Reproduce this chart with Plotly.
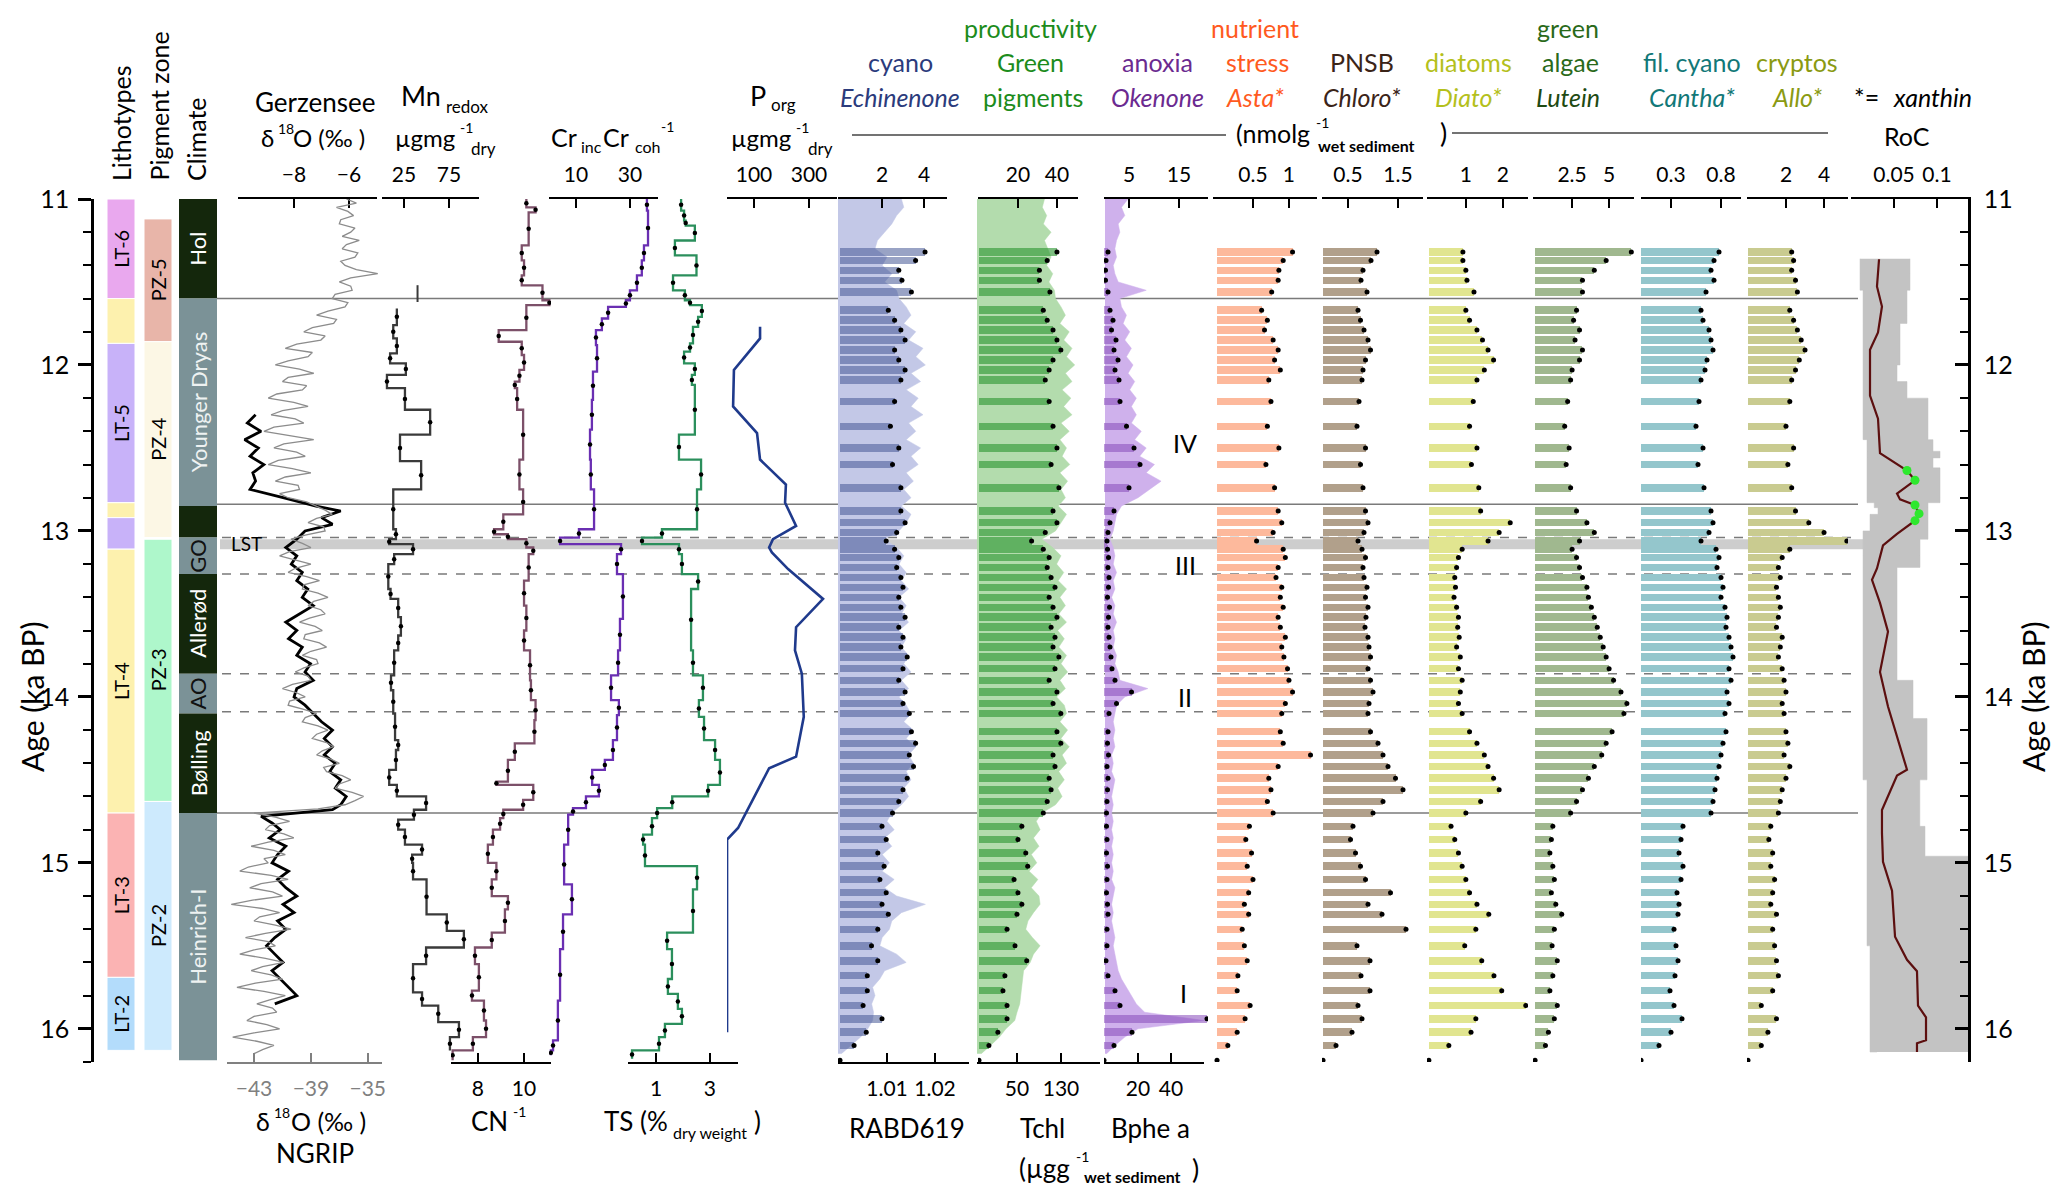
import plotly.graph_objects as go

W, H = 2067, 1199
FONT = "Lato"

# ------------------------------------------------------------------ data
# NGRIP d18O (permil), dense record
NG_AGE = [11.000, 11.025, 11.050, 11.075, 11.100, 11.125, 11.150, 11.175, 11.200, 11.225,
          11.250, 11.275, 11.300, 11.325, 11.350, 11.375, 11.400, 11.425, 11.450, 11.475,
          11.500, 11.525, 11.550, 11.575, 11.600, 11.625, 11.650, 11.675, 11.700, 11.725,
          11.750, 11.775, 11.800, 11.825, 11.850, 11.875, 11.900, 11.925, 11.950, 11.975,
          12.000, 12.025, 12.050, 12.075, 12.100, 12.125, 12.150, 12.175, 12.200, 12.225,
          12.250, 12.275, 12.300, 12.325, 12.350, 12.375, 12.400, 12.425, 12.450, 12.475,
          12.500, 12.525, 12.550, 12.575, 12.600, 12.625, 12.650, 12.675, 12.700, 12.725,
          12.750, 12.775, 12.800, 12.825, 12.850, 12.875, 12.900, 12.925, 12.950, 12.975,
          13.000, 13.025, 13.050, 13.075, 13.100, 13.125, 13.150, 13.175, 13.200, 13.225,
          13.250, 13.275, 13.300, 13.325, 13.350, 13.375, 13.400, 13.425, 13.450, 13.475,
          13.500, 13.525, 13.550, 13.575, 13.600, 13.625, 13.650, 13.675, 13.700, 13.725,
          13.750, 13.775, 13.800, 13.825, 13.850, 13.875, 13.900, 13.925, 13.950, 13.975,
          14.000, 14.025, 14.050, 14.075, 14.100, 14.125, 14.150, 14.175, 14.200, 14.225,
          14.250, 14.275, 14.300, 14.325, 14.350, 14.375, 14.400, 14.425, 14.450, 14.475,
          14.500, 14.525, 14.550, 14.575, 14.600, 14.625, 14.650, 14.675, 14.700, 14.725,
          14.750, 14.775, 14.800, 14.825, 14.850, 14.875, 14.900, 14.925, 14.950, 14.975,
          15.000, 15.025, 15.050, 15.075, 15.100, 15.125, 15.150, 15.175, 15.200, 15.225,
          15.250, 15.275, 15.300, 15.325, 15.350, 15.375, 15.400, 15.425, 15.450, 15.475,
          15.500, 15.525, 15.550, 15.575, 15.600, 15.625, 15.650, 15.675, 15.700, 15.725,
          15.750, 15.775, 15.800, 15.825, 15.850, 15.875, 15.900, 15.925, 15.950, 15.975,
          16.000, 16.025, 16.050, 16.075, 16.100, 16.125, 16.150]
NGRIP = [-36.5, -35.8, -37.2, -36.4, -36.0, -36.9, -37.0, -35.9, -36.2, -36.8,
         -35.6, -36.5, -36.8, -35.7, -35.9, -36.9, -36.6, -35.8, -34.3, -36.2,
         -37.0, -36.2, -36.1, -37.3, -37.5, -36.4, -36.6, -37.8, -38.6, -37.2,
         -37.4, -38.9, -39.5, -38.0, -38.3, -40.0, -40.8, -38.9, -39.2, -40.6,
         -41.5, -39.8, -38.8, -40.6, -41.0, -39.3, -39.6, -41.4, -42.0, -40.2,
         -39.2, -41.0, -41.8, -40.1, -39.5, -41.6, -42.3, -40.5, -38.8, -40.9,
         -41.6, -40.0, -39.4, -41.3, -42.0, -40.3, -39.0, -40.8, -41.5, -39.9,
         -39.8, -41.2, -40.6, -39.3, -38.6, -38.0, -37.5, -38.6, -39.2, -38.1,
         -38.0, -39.4, -40.4, -39.6, -39.0, -40.5, -41.2, -40.0, -39.0, -40.1,
         -40.6, -39.3, -38.4, -39.5, -39.6, -38.5, -37.8, -38.8, -39.2, -38.3,
         -38.0, -39.1, -39.8, -38.7, -38.2, -39.4, -39.5, -38.4, -37.9, -39.0,
         -39.6, -38.6, -38.5, -39.5, -40.1, -39.2, -39.0, -40.3, -41.0, -40.0,
         -39.4, -40.5, -40.6, -39.5, -38.6, -39.4, -39.6, -38.5, -37.8, -38.6,
         -38.9, -37.9, -37.4, -38.2, -38.6, -37.6, -37.0, -38.1, -37.9, -36.8,
         -36.2, -37.0, -37.3, -36.1, -35.3, -35.9, -36.6, -38.5, -43.0, -41.5,
         -40.5, -41.9, -42.2, -40.9, -40.2, -42.0, -43.2, -41.6, -40.8, -42.3,
         -42.0, -43.4, -44.0, -41.8, -40.6, -42.5, -43.3, -41.7, -41.0, -43.1,
         -44.6, -42.4, -41.2, -42.6, -43.0, -41.5, -40.4, -42.2, -43.6, -42.0,
         -41.5, -43.0, -44.0, -42.2, -40.9, -42.4, -43.2, -41.8, -41.0, -42.9,
         -44.2, -42.3, -40.8, -41.9, -42.8, -41.7, -41.4, -43.0, -43.5, -42.1,
         -41.2, -43.0, -44.5, -42.8, -41.6, -42.4, -43.0]

# hyperspectral records on a common age grid (ka BP)
HS_AGE = [11.00, 11.05, 11.10, 11.15, 11.20, 11.25, 11.30, 11.35, 11.40, 11.45,
          11.50, 11.55, 11.60, 11.65, 11.70, 11.75, 11.80, 11.85, 11.90, 11.95,
          12.00, 12.05, 12.10, 12.15, 12.20, 12.25, 12.30, 12.35, 12.40, 12.45,
          12.50, 12.55, 12.60, 12.65, 12.70, 12.75, 12.80, 12.85, 12.90, 12.95,
          13.00, 13.05, 13.10, 13.15, 13.20, 13.25, 13.30, 13.35, 13.40, 13.45,
          13.50, 13.55, 13.60, 13.65, 13.70, 13.75, 13.80, 13.85, 13.90, 13.95,
          14.00, 14.05, 14.10, 14.15, 14.20, 14.25, 14.30, 14.35, 14.40, 14.45,
          14.50, 14.55, 14.60, 14.65, 14.70, 14.75, 14.80, 14.85, 14.90, 14.95,
          15.00, 15.05, 15.10, 15.15, 15.20, 15.25, 15.30, 15.35, 15.40, 15.45,
          15.50, 15.55, 15.60, 15.65, 15.70, 15.75, 15.80, 15.85, 15.90, 15.95,
          16.00, 16.05, 16.10, 16.15]
RABD619 = [1.0130, 1.0135, 1.0120, 1.0110, 1.0095, 1.0080, 1.0075, 1.0100, 1.0090, 1.0110,
           1.0095, 1.0120, 1.0125, 1.0140, 1.0150, 1.0135, 1.0160, 1.0145, 1.0175, 1.0160,
           1.0180, 1.0150, 1.0170, 1.0140, 1.0165, 1.0150, 1.0175, 1.0145, 1.0160, 1.0140,
           1.0170, 1.0150, 1.0165, 1.0140, 1.0155, 1.0135, 1.0150, 1.0130, 1.0150, 1.0140,
           1.0125, 1.0095, 1.0120, 1.0135, 1.0125, 1.0140, 1.0130, 1.0145, 1.0125, 1.0140,
           1.0130, 1.0145, 1.0125, 1.0140, 1.0130, 1.0145, 1.0135, 1.0150, 1.0130, 1.0145,
           1.0125, 1.0140, 1.0150, 1.0135, 1.0155, 1.0140, 1.0160, 1.0145, 1.0155, 1.0140,
           1.0150, 1.0135, 1.0145, 1.0130, 1.0110, 1.0100, 1.0115, 1.0095, 1.0110, 1.0090,
           1.0105, 1.0090, 1.0115, 1.0095, 1.0120, 1.0180, 1.0130, 1.0110, 1.0105, 1.0090,
           1.0085, 1.0120, 1.0140, 1.0095, 1.0085, 1.0070, 1.0075, 1.0068, 1.0072, 1.0070,
           1.0060, 1.0045, 1.0025, 1.0005]
TCHL = [100, 96, 104, 98, 112, 100, 106, 112, 104, 115,
        108, 118, 120, 130, 138, 128, 145, 135, 150, 140,
        155, 138, 150, 132, 148, 135, 150, 130, 145, 128,
        140, 132, 146, 128, 142, 130, 138, 125, 140, 130,
        120, 95, 115, 130, 122, 135, 125, 140, 128, 138,
        126, 140, 124, 136, 126, 140, 130, 142, 128, 138,
        122, 136, 140, 128, 142, 130, 145, 132, 140, 126,
        136, 124, 132, 120, 95, 85, 92, 80, 90, 76,
        86, 72, 88, 76, 90, 92, 80, 70, 66, 78,
        92, 80, 74, 62, 60, 58, 56, 55, 50, 46,
        30, 18, 2, -15]
BPHE = [14, 10, 12, 8, 9, 7, 6, 7, 5, 6,
        8, 25, 9, 10, 13, 11, 15, 12, 16, 13,
        17, 14, 18, 15, 19, 16, 19, 16, 22, 18,
        25, 21, 30, 25, 34, 27, 20, 10, 7, 6,
        5, 3, 5, 6, 5, 7, 5, 6, 4, 6,
        5, 7, 5, 6, 5, 7, 6, 8, 9, 26,
        12, 7, 6, 5, 6, 5, 6, 4, 5, 4,
        6, 5, 4, 5, 4, 5, 4, 5, 4, 5,
        4, 5, 4, 6, 5, 4, 5, 4, 5, 6,
        5, 6, 7, 8, 10, 13, 16, 19, 24, 60,
        20, 12, 6, 1]

# Gerzensee d18O
GERZ_AGE = [12.30, 12.35, 12.40, 12.45, 12.50, 12.55, 12.60, 12.65, 12.70, 12.75,
            12.80, 12.85, 12.88, 12.92, 12.96, 13.00, 13.05, 13.10, 13.15, 13.20,
            13.25, 13.30, 13.35, 13.40, 13.45, 13.50, 13.55, 13.60, 13.65, 13.70,
            13.75, 13.80, 13.85, 13.90, 13.95, 14.00, 14.05, 14.10, 14.15, 14.20,
            14.25, 14.30, 14.35, 14.40, 14.45, 14.50, 14.55, 14.60, 14.65, 14.68,
            14.72, 14.76, 14.80, 14.85, 14.90, 14.95, 15.00, 15.05, 15.10, 15.15,
            15.20, 15.25, 15.30, 15.35, 15.40, 15.45, 15.50, 15.55, 15.60, 15.65,
            15.70, 15.75, 15.80, 15.85]
GERZ = [-9.4, -9.7, -9.2, -9.8, -9.3, -9.6, -9.1, -9.5, -9.4, -9.6,
        -8.4, -7.2, -6.3, -7.0, -6.6, -7.6, -7.9, -8.3, -7.9, -8.1,
        -7.7, -7.9, -7.5, -7.7, -7.3, -7.8, -8.3, -7.9, -8.2, -7.7,
        -7.9, -7.4, -7.6, -7.3, -7.9, -8.0, -7.6, -7.3, -7.0, -6.6,
        -6.9, -6.6, -6.9, -6.5, -6.7, -6.3, -6.5, -6.1, -6.3, -6.6,
        -9.2, -8.8, -8.5, -8.9, -8.3, -8.6, -8.8, -8.2, -8.6, -8.3,
        -7.9, -8.4, -8.0, -8.6, -8.3, -8.7, -9.0, -8.7, -8.4, -8.8,
        -8.5, -8.2, -7.9, -8.7]

# geochemistry step profiles: top age of each sample and its value
MN_TOP = [11.66, 11.76, 11.84, 11.93, 11.99, 12.06, 12.14, 12.27, 12.42, 12.58,
          12.75, 12.99, 13.05, 13.08, 13.14, 13.20, 13.35, 13.41, 13.52, 13.63,
          13.72, 13.87, 13.96, 14.10, 14.26, 14.32, 14.44, 14.53, 14.60, 14.68,
          14.74, 14.80, 14.89, 14.95, 15.00, 15.10, 15.31, 15.41, 15.51, 15.61,
          15.78, 15.86, 15.96, 16.05]
MN = [17, 13, 17, 9.5, 27, 6, 26, 54, 20.5, 44,
      13, 16, 8.5, 35, 14, 7.5, 10, 18.5, 21.5, 18.5,
      14, 10.5, 13, 15, 18.5, 16, 8.5, 17, 49.5, 36,
      18.5, 26, 45, 34, 35, 50, 72.5, 91.5, 49.5, 35,
      45, 63, 86, 76]
MN_BOTTOM = 16.13
MN_ISOLATED_AGE = [11.57]
MN_ISOLATED = [40]

CN_TOP = [11.00, 11.05, 11.08, 11.28, 11.37, 11.46, 11.52, 11.61, 11.64, 11.79,
          11.86, 11.94, 12.03, 12.10, 12.14, 12.27, 12.57, 12.75, 12.90, 12.99,
          13.02, 13.05, 13.10, 13.14, 13.30, 13.45, 13.60, 13.72, 13.90, 14.02,
          14.14, 14.28, 14.38, 14.51, 14.53, 14.62, 14.68, 14.73, 14.80, 14.89,
          15.00, 15.10, 15.20, 15.28, 15.42, 15.51, 15.61, 15.77, 15.83, 15.95,
          16.05, 16.13]
CN = [10.1, 10.5, 10.2, 9.9, 10.0, 9.9, 10.8, 11.1, 10.1, 8.9,
      9.9, 10.0, 9.8, 9.6, 9.7, 9.96, 9.8, 9.96, 9.1, 8.7,
      9.3, 10.1, 10.4, 10.2, 10.0, 10.1, 10.0, 10.26, 10.3, 10.5,
      10.45, 9.6, 9.3, 8.8, 10.4, 9.96, 9.1, 8.96, 8.65, 8.43,
      8.8, 8.6, 9.3, 9.17, 8.6, 7.87, 8.04, 7.74, 8.26, 8.35,
      7.78, 6.9]
CN_BOTTOM = 16.19

CR_TOP = [11.00, 11.07, 11.28, 11.37, 11.46, 11.55, 11.61, 11.65, 11.72, 11.79,
          11.88, 12.04, 12.21, 12.39, 12.57, 12.75, 12.99, 13.04, 13.08, 13.14,
          13.26, 13.53, 13.72, 13.87, 14.02, 14.11, 14.26, 14.38, 14.44, 14.53,
          14.60, 14.67, 14.71, 14.89, 15.13, 15.31, 15.52, 15.83, 16.07, 16.13]
CR = [36.3, 36.7, 35.2, 34.4, 32.6, 30.0, 28.5, 21.9, 19.6, 17.4,
      17.8, 16.3, 15.9, 15.2, 15.5, 16.7, 11.1, 4.1, 26.7, 25.2,
      27.4, 26.3, 25.6, 23.0, 25.9, 25.2, 23.7, 20.7, 16.0, 18.5,
      13.7, 8.9, 7.1, 5.6, 8.5, 5.2, 4.1, 3.3, 1.5, 0.7]
CR_BOTTOM = 16.16

TS_TOP = [11.00, 11.07, 11.13, 11.16, 11.25, 11.34, 11.46, 11.55, 11.61, 11.64,
          11.71, 11.77, 11.87, 11.92, 11.99, 12.06, 12.12, 12.42, 12.57, 12.75,
          12.99, 13.04, 13.08, 13.14, 13.26, 13.35, 13.72, 13.87, 14.02, 14.12,
          14.26, 14.38, 14.53, 14.60, 14.67, 14.73, 14.83, 14.89, 15.02, 15.16,
          15.42, 15.52, 15.70, 15.79, 15.88, 15.97, 16.05, 16.13]
TS = [1.93, 2.04, 2.10, 2.44, 1.70, 2.50, 1.63, 2.07, 2.26, 2.70,
      2.56, 2.37, 2.26, 2.04, 2.44, 2.33, 2.44, 1.85, 2.67, 2.52,
      1.22, 0.48, 1.85, 1.96, 2.56, 2.30, 2.37, 2.74, 2.59, 2.78,
      3.19, 3.37, 2.93, 1.60, 1.04, 0.85, 0.52, 0.59, 2.52, 2.37,
      1.41, 1.59, 1.44, 1.81, 1.96, 1.33, 1.11, 0.11]
TS_BOTTOM = 16.18

PORG_AGE = [11.77, 11.84, 12.03, 12.25, 12.41, 12.57, 12.72, 12.83, 12.97, 13.05,
            13.10, 13.13, 13.23, 13.41, 13.58, 13.72, 13.86, 14.12, 14.36, 14.43,
            14.79, 14.86, 16.02]
PORG = [122, 122, 27, 24, 111, 122, 216, 213, 253, 169,
        155, 165, 224, 351, 253, 249, 274, 281, 253, 155,
        42, 2, 2]

# HPLC pigment samples
HPLC_AGE = [11.32, 11.37, 11.43, 11.49, 11.56,
            11.67, 11.73, 11.79, 11.85, 11.91, 11.97, 12.03, 12.09,
            12.22, 12.37, 12.50, 12.60, 12.74,
            12.88, 12.95, 13.01, 13.06, 13.11, 13.16, 13.22, 13.28, 13.34, 13.40,
            13.46, 13.52, 13.58, 13.64, 13.70, 13.76, 13.83, 13.90, 13.97, 14.04, 14.10,
            14.21, 14.28, 14.35, 14.42, 14.49, 14.56, 14.63, 14.70,
            14.78, 14.86, 14.94, 15.02, 15.10, 15.18, 15.25,
            15.31, 15.40, 15.50, 15.59, 15.68, 15.77, 15.86, 15.94, 16.02, 16.10, 16.19]
ECHIN = [4.05, 3.6, 2.8, 2.95, 3.4,
         2.3, 2.6, 2.9, 3.1, 2.6, 2.8, 3.1, 2.9,
         2.6, 2.4, 2.8, 2.5, 2.9,
         2.9, 3.1, 2.7, 2.2, 2.6, 2.8, 2.7, 2.9, 3.0, 2.8,
         2.9, 3.1, 2.8, 3.0, 2.9, 3.2, 3.0, 2.8, 3.1, 3.0, 3.3,
         3.4, 3.6, 3.3, 3.5, 3.2, 3.0, 2.8, 2.5,
         2.0, 2.2, 1.8, 2.1, 1.9, 2.2, 2.0,
         2.3, 1.8, 1.5, 1.8, 1.3, 1.3, 1.1, 2.0, 1.25, 0.67, 0]
GREEN_PIG = [40, 35, 31, 31, 36.4,
             33, 35, 38, 40, 42, 38, 36, 34,
             36, 38, 40, 37, 41,
             38, 40, 34, 27, 33, 36, 35, 37, 39, 36,
             38, 40, 37, 39, 38, 41, 39, 36, 40, 38, 42,
             40, 42, 38, 39, 36, 37, 35, 33,
             22, 20, 24, 25, 18, 20, 22,
             19.5, 14.4, 18.5, 24.5, 13.3, 12.3, 14.4, 14.4, 9.7, 5.1, 0]
OKEN = [0.8, 0.4, 0.3, 0.3, 0.8,
        1.2, 1.8, 1.5, 2.4, 2.0, 2.8, 2.2, 3.0,
        3.2, 4.5, 6.0, 7.2, 5.0,
        2.0, 1.2, 0.8, 0.6, 0.7, 0.9, 0.8, 1.0, 0.9, 0.7,
        1.1, 0.9, 0.8, 1.0, 1.2, 1.4, 1.6, 2.2, 5.5, 2.5, 1.0,
        0.8, 0.7, 0.9, 0.6, 0.8, 0.7, 0.6, 0.5,
        0.5, 0.6, 0.5, 0.7, 0.6, 0.5, 0.7,
        0.8, 0.6, 0.6, 0.4, 0.8, 2.2, 3.2, 20.6, 5.6, 2.0, 0]
ASTA = [1.05, 0.92, 0.86, 0.85, 0.76,
        0.62, 0.70, 0.66, 0.78, 0.85, 0.80, 0.88, 0.72,
        0.75, 0.70, 0.86, 0.68, 0.80,
        0.85, 0.90, 0.78, 0.55, 0.92, 0.95, 0.85, 0.82, 0.90, 0.88,
        0.92, 0.85, 0.88, 0.95, 0.90, 0.93, 0.98, 1.00, 1.05, 0.95, 0.90,
        0.88, 0.92, 1.30, 0.85, 0.72, 0.75, 0.70, 0.78,
        0.45, 0.40, 0.48, 0.42, 0.50, 0.44, 0.38,
        0.44, 0.35, 0.38, 0.42, 0.29, 0.28, 0.46, 0.39, 0.28, 0.15, 0]
CHLORO = [1.08, 0.96, 0.80, 0.76, 0.88,
          0.70, 0.75, 0.82, 0.90, 0.95, 0.85, 0.80, 0.78,
          0.72, 0.68, 0.85, 0.75, 0.80,
          0.85, 0.90, 0.82, 0.70, 0.78, 0.85, 0.80, 0.82, 0.88, 0.85,
          0.90, 0.86, 0.84, 0.90, 0.92, 0.95, 0.90, 0.95, 1.00, 0.92, 0.90,
          0.95, 1.10, 1.20, 1.30, 1.45, 1.60, 1.20, 1.00,
          0.60, 0.55, 0.65, 0.75, 0.85, 1.35, 0.90,
          1.18, 1.66, 0.68, 0.94, 0.76, 0.94, 0.70, 0.78, 0.58, 0.26, 0]
DIATO = [0.92, 0.92, 1.0, 1.03, 1.22,
         1.0, 1.1, 1.3, 1.45, 1.6, 1.75, 1.5, 1.3,
         1.2, 1.1, 1.3, 1.15, 1.35,
         1.4, 2.2, 1.9, 1.6, 0.9, 0.8, 0.75, 0.7, 0.72, 0.68,
         0.75, 0.8, 0.78, 0.82, 0.75, 0.85, 0.8, 0.9, 0.85, 0.8, 0.9,
         1.1, 1.3, 1.5, 1.6, 1.75, 1.9, 1.4, 1.0,
         0.6, 0.7, 0.8, 0.9, 1.0, 1.1, 1.3,
         1.62, 1.27, 0.97, 1.43, 1.76, 1.97, 2.62, 1.27, 1.14, 0.54, 0]
LUTEIN = [6.5, 4.8, 4.0, 3.2, 3.2,
          2.8, 2.6, 3.0, 2.7, 3.2, 3.0, 2.5, 2.4,
          2.2, 2.0, 2.3, 2.1, 2.4,
          2.8, 3.5, 4.0, 3.0, 2.5, 2.8, 3.0, 3.2, 3.5, 3.6,
          3.8, 4.0, 4.2, 4.4, 4.6, 4.8, 5.0, 5.3, 5.8, 6.2, 6.0,
          5.2, 4.8, 4.5, 4.0, 3.6, 3.2, 2.8, 2.4,
          1.2, 1.1, 1.0, 1.2, 1.3, 1.1, 1.4,
          1.8, 1.3, 1.15, 1.5, 1.2, 1.0, 1.5, 1.3, 0.9, 0.7, 0]
CANTHA = [0.78, 0.73, 0.70, 0.73, 0.65,
          0.60, 0.62, 0.68, 0.70, 0.72, 0.66, 0.64, 0.60,
          0.58, 0.55, 0.62, 0.57, 0.63,
          0.70, 0.72, 0.68, 0.60, 0.75, 0.78, 0.76, 0.80, 0.82, 0.80,
          0.84, 0.86, 0.85, 0.88, 0.90, 0.92, 0.88, 0.90, 0.86, 0.88, 0.84,
          0.85, 0.82, 0.80, 0.78, 0.76, 0.74, 0.72, 0.70,
          0.42, 0.40, 0.38, 0.42, 0.40, 0.36, 0.38,
          0.37, 0.33, 0.35, 0.37, 0.34, 0.29, 0.33, 0.41, 0.30, 0.18, 0]
ALLO = [2.3, 2.4, 2.3, 2.5, 2.6,
        2.2, 2.4, 2.6, 2.8, 3.0, 2.7, 2.5, 2.3,
        2.2, 2.0, 2.4, 2.1, 2.3,
        2.5, 3.2, 4.0, 5.2, 2.2, 1.8, 1.6, 1.7, 1.5, 1.6,
        1.7, 1.6, 1.5, 1.8, 1.7, 1.6, 1.8, 1.9, 2.0, 1.8, 1.9,
        2.0, 2.1, 1.9, 2.2, 2.0, 1.8, 1.7, 1.6,
        1.2, 1.1, 1.3, 1.2, 1.4, 1.3, 1.2,
        1.5, 1.3, 1.4, 1.5, 1.6, 1.3, 0.7, 1.5, 1.05, 0.7, 0]

# rate of change
ROC_AGE = [11.363, 11.527, 11.648, 11.804, 11.908, 12.185, 12.324, 12.532, 12.636, 12.695,
           12.775, 12.810, 12.844, 12.896, 12.938, 13.018, 13.087, 13.226, 13.295, 13.434,
           13.607, 13.850, 14.058, 14.266, 14.439, 14.474, 14.682, 14.821, 14.994, 15.168,
           15.445, 15.584, 15.653, 15.861, 15.931, 16.069, 16.087, 16.139]
ROC = [0.0326, 0.0302, 0.0360, 0.0314, 0.0221, 0.0221, 0.0314, 0.0337, 0.0651, 0.0744,
       0.0535, 0.0570, 0.0744, 0.0791, 0.0744, 0.0535, 0.0372, 0.0302, 0.0244, 0.0337,
       0.0430, 0.0337, 0.0430, 0.0547, 0.0651, 0.0535, 0.0360, 0.0360, 0.0372, 0.0477,
       0.0512, 0.0651, 0.0767, 0.0779, 0.0872, 0.0872, 0.0767, 0.0767]
ROC_SIG = [0, 0, 0, 0, 0, 0, 0, 0, 1, 1,
           0, 0, 1, 1, 1, 0, 0, 0, 0, 0,
           0, 0, 0, 0, 0, 0, 0, 0, 0, 0,
           0, 0, 0, 0, 0, 0, 0, 0]
ROC_BAND_AGE = [11.36, 11.45, 11.55, 11.70, 11.75, 12.00, 12.10, 12.20, 12.40, 12.45,
                12.52, 12.56, 12.62, 12.80, 12.83, 12.86, 12.90, 13.00, 13.05, 13.15,
                13.22, 13.85, 13.90, 14.10, 14.13, 14.45, 14.50, 14.78, 14.92, 14.96,
                15.50, 16.00, 16.14]
ROC_LO = [0.0105, 0.0105, 0.014, 0.014, 0.014, 0.014, 0.014, 0.014, 0.014, 0.0186,
          0.0186, 0.0186, 0.0186, 0.0186, 0.027, 0.0314, 0.0221, 0.014, 0.014, 0.014,
          0.014, 0.014, 0.014, 0.014, 0.014, 0.014, 0.0186, 0.0186, 0.0186, 0.0186,
          0.0221, 0.0221, 0.0302]
ROC_HI = [0.0686, 0.0686, 0.0651, 0.0651, 0.057, 0.0535, 0.0651, 0.0895, 0.0895, 0.0953,
          0.1035, 0.0953, 0.1035, 0.1035, 0.0895, 0.0895, 0.0895, 0.0895, 0.0802, 0.0802,
          0.0535, 0.0535, 0.0721, 0.0721, 0.0884, 0.0884, 0.080, 0.086, 0.086, 0.1372,
          0.1372, 0.1372, 0.1372]

# zonations
LITHO_TOP = [11.00, 11.60, 11.87, 12.83, 12.92, 13.11, 14.70, 15.69]
LITHO_BOT = [11.60, 11.87, 12.83, 12.92, 13.11, 14.70, 15.69, 16.13]
LITHO_LABEL = ["LT-6", "", "LT-5", "", "", "LT-4", "LT-3", "LT-2"]
PZ_TOP = [11.12, 11.86, 13.05, 14.63]
PZ_BOT = [11.86, 13.04, 14.63, 16.13]
PZ_LABEL = ["PZ-5", "PZ-4", "PZ-3", "PZ-2"]
CLIM_TOP = [11.00, 11.60, 12.85, 13.04, 13.26, 13.86, 14.10, 14.70]
CLIM_BOT = [11.60, 12.85, 13.04, 13.26, 13.86, 14.10, 14.70, 16.19]
CLIM_LABEL = ["Hol", "Younger Dryas", "", "GO", "Allerød", "AO", "Bølling", "Heinrich-I"]
SOLID_AGES = [11.60, 12.84, 14.70]
DASHED_AGES = [13.04, 13.26, 13.86, 14.09]
LST_AGES = [13.05, 13.11]
AGE_TICKS = [11, 12, 13, 14, 15, 16]

for a, b in [(NG_AGE, NGRIP), (HS_AGE, RABD619), (HS_AGE, TCHL), (HS_AGE, BPHE),
             (GERZ_AGE, GERZ), (MN_TOP, MN), (CN_TOP, CN), (CR_TOP, CR), (TS_TOP, TS),
             (PORG_AGE, PORG), (HPLC_AGE, ECHIN), (HPLC_AGE, GREEN_PIG), (HPLC_AGE, OKEN),
             (HPLC_AGE, ASTA), (HPLC_AGE, CHLORO), (HPLC_AGE, DIATO), (HPLC_AGE, LUTEIN),
             (HPLC_AGE, CANTHA), (HPLC_AGE, ALLO), (ROC_AGE, ROC), (ROC_AGE, ROC_SIG),
             (ROC_BAND_AGE, ROC_LO), (ROC_BAND_AGE, ROC_HI)]:
    assert len(a) == len(b), (len(a), len(b))

# ------------------------------------------------------------------ styles
LITHO_COL = ["#e9a8ee", "#fdf1ae", "#c8b2f9", "#fdf1ae", "#c8b2f9", "#fdf1ae", "#fbb3b3", "#b3dcfb"]
PZ_COL = ["#e8b5a9", "#fcf7e5", "#aef7cb", "#cdeafd"]
DARK, GREY = "#14270c", "#7b9297"
CLIM_COL = [DARK, GREY, DARK, GREY, DARK, GREY, DARK, GREY]
CLIM_TXT = ["white", "#eef2f2", "white", "#111111", "white", "#111111", "white", "#eef2f2"]

Y_TOP_PX, Y_BOT_PX = 199, 1062
AGE_RANGE = [16.2, 11.0]


def fx(p):
    return p / W


def fy(p):
    return 1 - p / H


fig = go.Figure()


def add_xaxis(name, x0, x1, rng, side, tickvals, color="black", ttext=None):
    key = "xaxis" + name[1:]
    d = dict(domain=[fx(x0), fx(x1)], range=rng, anchor="y", side=side,
             showline=True, linecolor=color, linewidth=2.2,
             ticks="inside", ticklen=9, tickwidth=2.2, tickcolor=color,
             tickmode="array", tickvals=tickvals,
             tickfont=dict(family=FONT, size=21, color=color),
             showgrid=False, zeroline=False, fixedrange=True, ticklabelstandoff=7,
             automargin=False)
    if ttext is not None:
        d["ticktext"] = ttext
    fig.update_layout(**{key: d})


add_xaxis("x", 238, 377, [-10.04, -4.98], "top", [-8, -6])
add_xaxis("x2", 227, 382, [-44.9, -34.0], "bottom", [-43, -39, -35], color="#808080")
add_xaxis("x3", 382, 479, [0.5, 108.3], "top", [25, 75])
add_xaxis("x4", 451, 551, [6.83, 11.17], "bottom", [8, 10])
add_xaxis("x5", 549, 658, [0, 40.4], "top", [10, 30])
add_xaxis("x6", 628, 738, [-0.04, 4.04], "bottom", [1, 3])
add_xaxis("x7", 727, 837, [1.8, 401.8], "top", [100, 300])
add_xaxis("x8", 838, 969, [0.99979, 1.02708], "bottom", [1.01, 1.02], ttext=["1.01", "1.02"])
add_xaxis("x9", 838, 947, [-0.095, 5.095], "top", [2, 4])
add_xaxis("x10", 977, 1100, [-22.7, 200.9], "bottom", [50, 130])
add_xaxis("x11", 978, 1078, [-0.5, 50.8], "top", [20, 40])
add_xaxis("x12", 1104, 1204, [-0.6, 60], "bottom", [20, 40])
add_xaxis("x13", 1104, 1208, [0, 20.8], "top", [5, 15])
add_xaxis("x14", 1213, 1317, [-0.056, 1.39], "top", [0.5, 1], ttext=["0.5", "1"])
add_xaxis("x15", 1322, 1423, [-0.02, 2.0], "top", [0.5, 1.5], ttext=["0.5", "1.5"])
add_xaxis("x16", 1427, 1528, [-0.05, 2.68], "top", [1, 2])
add_xaxis("x17", 1533, 1634, [-0.14, 6.68], "top", [2.5, 5], ttext=["2.5", "5"])
add_xaxis("x18", 1641, 1741, [0, 1.0], "top", [0.3, 0.8], ttext=["0.3", "0.8"])
add_xaxis("x19", 1747, 1848, [-0.05, 5.26], "top", [2, 4])
add_xaxis("x20", 1851, 1971, [0, 0.1395], "top", [0.05, 0.1], ttext=["0.05", "0.1"])

TCHL_RANGE = [-22.7, 200.9]

NOHOVER = dict(hoverinfo="skip", showlegend=False)

fig.add_trace(go.Scatter(x=NGRIP, y=NG_AGE, xaxis="x2", yaxis="y", mode="lines",
                         line=dict(color="#8c8c8c", width=1.3), **NOHOVER))
fig.add_trace(go.Scatter(x=GERZ, y=GERZ_AGE, xaxis="x", yaxis="y", mode="lines",
                         line=dict(color="black", width=2.8), **NOHOVER))


def step_profile(tops, vals, bottom, axis, color):
    xs = list(vals) + [vals[-1]]
    ys = list(tops) + [bottom]
    fig.add_trace(go.Scatter(x=xs, y=ys, xaxis=axis, yaxis="y", mode="lines",
                             line=dict(color=color, width=2.3, shape="vh"), **NOHOVER))
    ends = list(tops[1:]) + [bottom]
    mids = [(t + e) / 2 for t, e in zip(tops, ends)]
    fig.add_trace(go.Scatter(x=vals, y=mids, xaxis=axis, yaxis="y", mode="markers",
                             marker=dict(color="black", size=4.5), **NOHOVER))


step_profile(MN_TOP, MN, MN_BOTTOM, "x3", "#3a3a3a")
fig.add_trace(go.Scatter(x=MN_ISOLATED, y=MN_ISOLATED_AGE, xaxis="x3", yaxis="y", mode="markers",
                         marker=dict(symbol="line-ns", size=12, line=dict(color="#3a3a3a", width=2)),
                         **NOHOVER))
step_profile(CN_TOP, CN, CN_BOTTOM, "x4", "#7c5069")
step_profile(CR_TOP, CR, CR_BOTTOM, "x5", "#6a2fb2")
step_profile(TS_TOP, TS, TS_BOTTOM, "x6", "#2b8f5c")

fig.add_trace(go.Scatter(x=PORG, y=PORG_AGE, xaxis="x7", yaxis="y", mode="lines",
                         line=dict(color="#1f3a8c", width=2.6), **NOHOVER))

# hyperspectral shading (lower-numbered axes so the pigment bars sit on top)
fig.add_trace(go.Scatter(x=RABD619, y=HS_AGE, xaxis="x8", yaxis="y", mode="lines",
                         fill="tozerox", fillcolor="#c3c8e7",
                         line=dict(color="#c3c8e7", width=0.5), **NOHOVER))
fig.add_trace(go.Scatter(x=[TCHL_RANGE[0]] * len(HS_AGE), y=HS_AGE, xaxis="x10", yaxis="y",
                         mode="lines", line=dict(width=0, color="rgba(0,0,0,0)"), **NOHOVER))
fig.add_trace(go.Scatter(x=TCHL, y=HS_AGE, xaxis="x10", yaxis="y", mode="lines",
                         fill="tonextx", fillcolor="#b3dcad",
                         line=dict(color="#b3dcad", width=0.5), **NOHOVER))
fig.add_trace(go.Scatter(x=BPHE, y=HS_AGE, xaxis="x12", yaxis="y", mode="lines",
                         fill="tozerox", fillcolor="#cfb1ec",
                         line=dict(color="#cfb1ec", width=0.5), **NOHOVER))


def pigment(vals, axis, color):
    fig.add_trace(go.Bar(x=vals, y=HPLC_AGE, orientation="h", xaxis=axis, yaxis="y",
                         width=0.045, marker=dict(color=color, line=dict(width=0)), **NOHOVER))
    fig.add_trace(go.Scatter(x=vals, y=HPLC_AGE, xaxis=axis, yaxis="y", mode="markers",
                             marker=dict(color="black", size=5), **NOHOVER))


pigment(ECHIN, "x9", "rgba(70,88,150,0.55)")
pigment(GREEN_PIG, "x11", "rgba(45,150,50,0.62)")
pigment(OKEN, "x13", "rgba(135,75,185,0.55)")
pigment(ASTA, "x14", "#fdb99c")
pigment(CHLORO, "x15", "#b1a08b")
pigment(DIATO, "x16", "#e1e590")
pigment(LUTEIN, "x17", "#a0b88f")
pigment(CANTHA, "x18", "#94c6cc")
pigment(ALLO, "x19", "#c9cb90")

fig.add_trace(go.Scatter(x=ROC_LO, y=ROC_BAND_AGE, xaxis="x20", yaxis="y", mode="lines",
                         line=dict(color="#c3c3c3", width=0.5, shape="vh"), **NOHOVER))
fig.add_trace(go.Scatter(x=ROC_HI, y=ROC_BAND_AGE, xaxis="x20", yaxis="y", mode="lines",
                         fill="tonextx", fillcolor="#c3c3c3",
                         line=dict(color="#c3c3c3", width=0.5, shape="vh"), **NOHOVER))
fig.add_trace(go.Scatter(x=ROC, y=ROC_AGE, xaxis="x20", yaxis="y", mode="lines",
                         line=dict(color="#5c0f0f", width=2.2), **NOHOVER))
fig.add_trace(go.Scatter(x=[v for v, s in zip(ROC, ROC_SIG) if s],
                         y=[a for a, s in zip(ROC_AGE, ROC_SIG) if s],
                         xaxis="x20", yaxis="y", mode="markers",
                         marker=dict(color="#2ee82e", size=9), **NOHOVER))
fig.add_trace(go.Scatter(x=[None], y=[None], xaxis="x20", yaxis="y2", mode="markers", **NOHOVER))

yax_common = dict(domain=[fy(Y_BOT_PX), fy(Y_TOP_PX)], range=AGE_RANGE, showline=True,
                  linecolor="black", linewidth=2.6, tickmode="array", tickvals=AGE_TICKS,
                  ticklen=13, tickwidth=2.6, tickcolor="black", showgrid=False, zeroline=False,
                  fixedrange=True, automargin=False,
                  tickfont=dict(family=FONT, size=25, color="black"),
                  minor=dict(tickmode="linear", tick0=11.0, dtick=0.2, ticklen=8, tickwidth=2.3,
                             tickcolor="black"))
fig.update_layout(
    yaxis=dict(anchor="free", position=fx(92), side="left", ticks="outside",
               ticklabelstandoff=4, **yax_common),
    yaxis2=dict(anchor="free", position=fx(1969), side="right", overlaying="y", ticks="inside",
                ticklabelstandoff=8, **yax_common),
)
fig.layout.yaxis.minor.ticks = "outside"
fig.layout.yaxis2.minor.ticks = "inside"

# ---- shapes
shapes = []
for t, b, c in zip(LITHO_TOP, LITHO_BOT, LITHO_COL):
    shapes.append(dict(type="rect", xref="paper", yref="y", x0=fx(107), x1=fx(135), y0=t, y1=b,
                       fillcolor=c, line=dict(width=1, color="white"), layer="below"))
for t, b, c in zip(PZ_TOP, PZ_BOT, PZ_COL):
    shapes.append(dict(type="rect", xref="paper", yref="y", x0=fx(144), x1=fx(172), y0=t, y1=b,
                       fillcolor=c, line=dict(width=1, color="white"), layer="below"))
for t, b, c in zip(CLIM_TOP, CLIM_BOT, CLIM_COL):
    shapes.append(dict(type="rect", xref="paper", yref="y", x0=fx(179), x1=fx(217), y0=t, y1=b,
                       fillcolor=c, line=dict(width=0), layer="below"))
shapes.append(dict(type="rect", xref="paper", yref="y", x0=fx(220), x1=fx(1863),
                   y0=LST_AGES[0], y1=LST_AGES[1], fillcolor="#cdcdcd", line=dict(width=0),
                   layer="below"))
for a in SOLID_AGES:
    shapes.append(dict(type="line", xref="paper", yref="y", x0=fx(217), x1=fx(1858), y0=a, y1=a,
                       line=dict(color="#7a7a7a", width=1.5), layer="below"))
for a in DASHED_AGES:
    shapes.append(dict(type="line", xref="paper", yref="y", x0=fx(222), x1=fx(1858), y0=a, y1=a,
                       line=dict(color="#7a7a7a", width=1.5, dash="dash"), layer="below"))
shapes.append(dict(type="line", xref="paper", yref="paper", x0=fx(852), x1=fx(1226),
                   y0=fy(135), y1=fy(135), line=dict(color="#444", width=1.5)))
shapes.append(dict(type="line", xref="paper", yref="paper", x0=fx(1452), x1=fx(1828),
                   y0=fy(133), y1=fy(133), line=dict(color="#444", width=1.5)))
fig.update_layout(shapes=shapes)

# ---- annotations (sub/superscripts set as separate small labels)
anns = []


def txt(s, x, y, size=24, color="black", angle=0, xanchor="center", yanchor="middle",
        yref="paper", italic=False, bold=False):
    anns.append(dict(text=s, x=fx(x), y=(fy(y) if yref == "paper" else y), xref="paper", yref=yref,
                     showarrow=False, textangle=angle, xanchor=xanchor, yanchor=yanchor,
                     font=dict(family=FONT, size=size, color=color,
                               style="italic" if italic else "normal",
                               weight="bold" if bold else "normal")))


for t, b, lab in zip(LITHO_TOP, LITHO_BOT, LITHO_LABEL):
    if lab:
        txt(lab, 121, (t + b) / 2, size=20, angle=-90, yref="y")
for t, b, lab in zip(PZ_TOP, PZ_BOT, PZ_LABEL):
    txt(lab, 158, (t + b) / 2, size=20, angle=-90, yref="y")
for t, b, lab, c in zip(CLIM_TOP, CLIM_BOT, CLIM_LABEL, CLIM_TXT):
    if lab:
        txt(lab, 198, (t + b) / 2, size=22, angle=-90, color=c, yref="y")

txt("Lithotypes", 121, 183, size=25, angle=-90, yanchor="bottom")
txt("Pigment zone", 158, 183, size=25, angle=-90, yanchor="bottom")
txt("Climate", 196, 183, size=25, angle=-90, yanchor="bottom")

# Gerzensee
txt("Gerzensee", 315, 102, size=26)
txt("δ", 276, 137, size=24, xanchor="right")
txt("18", 276, 128, size=14, xanchor="left")
txt("O (‰ )", 291, 137, size=24, xanchor="left")
# Mn redox
txt("Mn", 443, 95, size=27, xanchor="right")
txt("redox", 444, 106, size=17, xanchor="left")
txt("µgmg", 457, 137, size=24, xanchor="right")
txt("-1", 458, 127, size=14, xanchor="left")
txt("dry", 469, 148, size=17, xanchor="left")
# Cr inc / Cr coh
txt("Cr", 579, 137, size=25, xanchor="right")
txt("inc", 579, 147, size=16, xanchor="left")
txt("Cr", 601, 137, size=25, xanchor="left")
txt("coh", 633, 147, size=16, xanchor="left")
txt("-1", 659, 126, size=14, xanchor="left")
# P org
txt("P", 768, 95, size=27, xanchor="right")
txt("org", 769, 104, size=17, xanchor="left")
txt("µgmg", 793, 137, size=24, xanchor="right")
txt("-1", 794, 127, size=14, xanchor="left")
txt("dry", 806, 148, size=17, xanchor="left")

txt("productivity", 1030, 28, size=25, color="#1c8c1c")
txt("cyano", 900, 62, size=25, color="#2b3b7c")
txt("Green", 1030, 62, size=25, color="#1c8c1c")
txt("anoxia", 1157, 62, size=25, color="#6b2a90")
txt("Echinenone", 900, 97, size=25, color="#2b3b7c", italic=True)
txt("pigments", 1033, 97, size=25, color="#1c8c1c")
txt("Okenone", 1157, 97, size=25, color="#6b2a90", italic=True)
txt("nutrient", 1255, 28, size=25, color="#ff5a1e")
txt("stress", 1257, 62, size=25, color="#ff5a1e")
txt("Asta*", 1255, 97, size=25, color="#ff5a1e", italic=True)
txt("PNSB", 1362, 62, size=25, color="#3b2418")
txt("Chloro*", 1362, 97, size=25, color="#3b2418", italic=True)
txt("diatoms", 1468, 62, size=25, color="#b4c01c")
txt("Diato*", 1468, 97, size=25, color="#b4c01c", italic=True)
txt("green", 1568, 28, size=25, color="#2a6a1a")
txt("algae", 1570, 62, size=25, color="#2a6a1a")
txt("Lutein", 1568, 97, size=25, color="#1e4a12", italic=True)
txt("fil. cyano", 1692, 62, size=25, color="#127878")
txt("Cantha*", 1692, 97, size=25, color="#127878", italic=True)
txt("cryptos", 1797, 62, size=25, color="#8a9a12")
txt("Allo*", 1797, 97, size=25, color="#8a9a12", italic=True)
txt("*=", 1866, 97, size=25)
txt("xanthin", 1932, 97, size=25, italic=True)
txt("RoC", 1907, 136, size=25)
# (nmol g-1 wet sediment)
txt("(nmolg", 1312, 133, size=25, xanchor="right")
txt("-1", 1314, 122, size=14, xanchor="left")
txt("wet sediment", 1316, 145, size=16, xanchor="left", bold=True)
txt(")", 1438, 133, size=27, xanchor="left")

# bottom axis titles
txt("δ", 272, 1121, size=25, xanchor="right")
txt("18", 272, 1112, size=14, xanchor="left")
txt("O (‰ )", 289, 1121, size=25, xanchor="left")
txt("NGRIP", 315, 1153, size=26)
txt("CN", 510, 1121, size=26, xanchor="right")
txt("-1", 511, 1111, size=14, xanchor="left")
txt("TS (%", 670, 1121, size=26, xanchor="right")
txt("dry weight", 671, 1132, size=16, xanchor="left")
txt(")", 752, 1121, size=26, xanchor="left")
txt("RABD619", 907, 1128, size=26)
txt("Tchl", 1042, 1128, size=26)
txt("Bphe a", 1150, 1128, size=26)
txt("(µgg", 1072, 1168, size=26, xanchor="right")
txt("-1", 1074, 1156, size=14, xanchor="left")
txt("wet sediment", 1082, 1176, size=16, xanchor="left", bold=True)
txt(")", 1190, 1168, size=27, xanchor="left")

txt("Age (ka BP)", 32, 697, size=30, angle=-90)
txt("Age (ka BP)", 2033, 697, size=30, angle=-90)
txt("LST", 246, 543, size=19)
txt("IV", 1185, 443, size=25)
txt("III", 1185, 565, size=25)
txt("II", 1185, 697, size=25)
txt("I", 1183, 993, size=25)

fig.update_layout(annotations=anns)

fig.update_layout(width=W, height=H, margin=dict(l=0, r=0, t=0, b=0, autoexpand=False),
                  paper_bgcolor="white", plot_bgcolor="rgba(0,0,0,0)",
                  showlegend=False, barmode="overlay", bargap=0,
                  font=dict(family=FONT, size=21, color="black"))

fig.write_html("out.html", config={"displayModeBar": False},
               post_script="document.body.style.margin='0px';")
